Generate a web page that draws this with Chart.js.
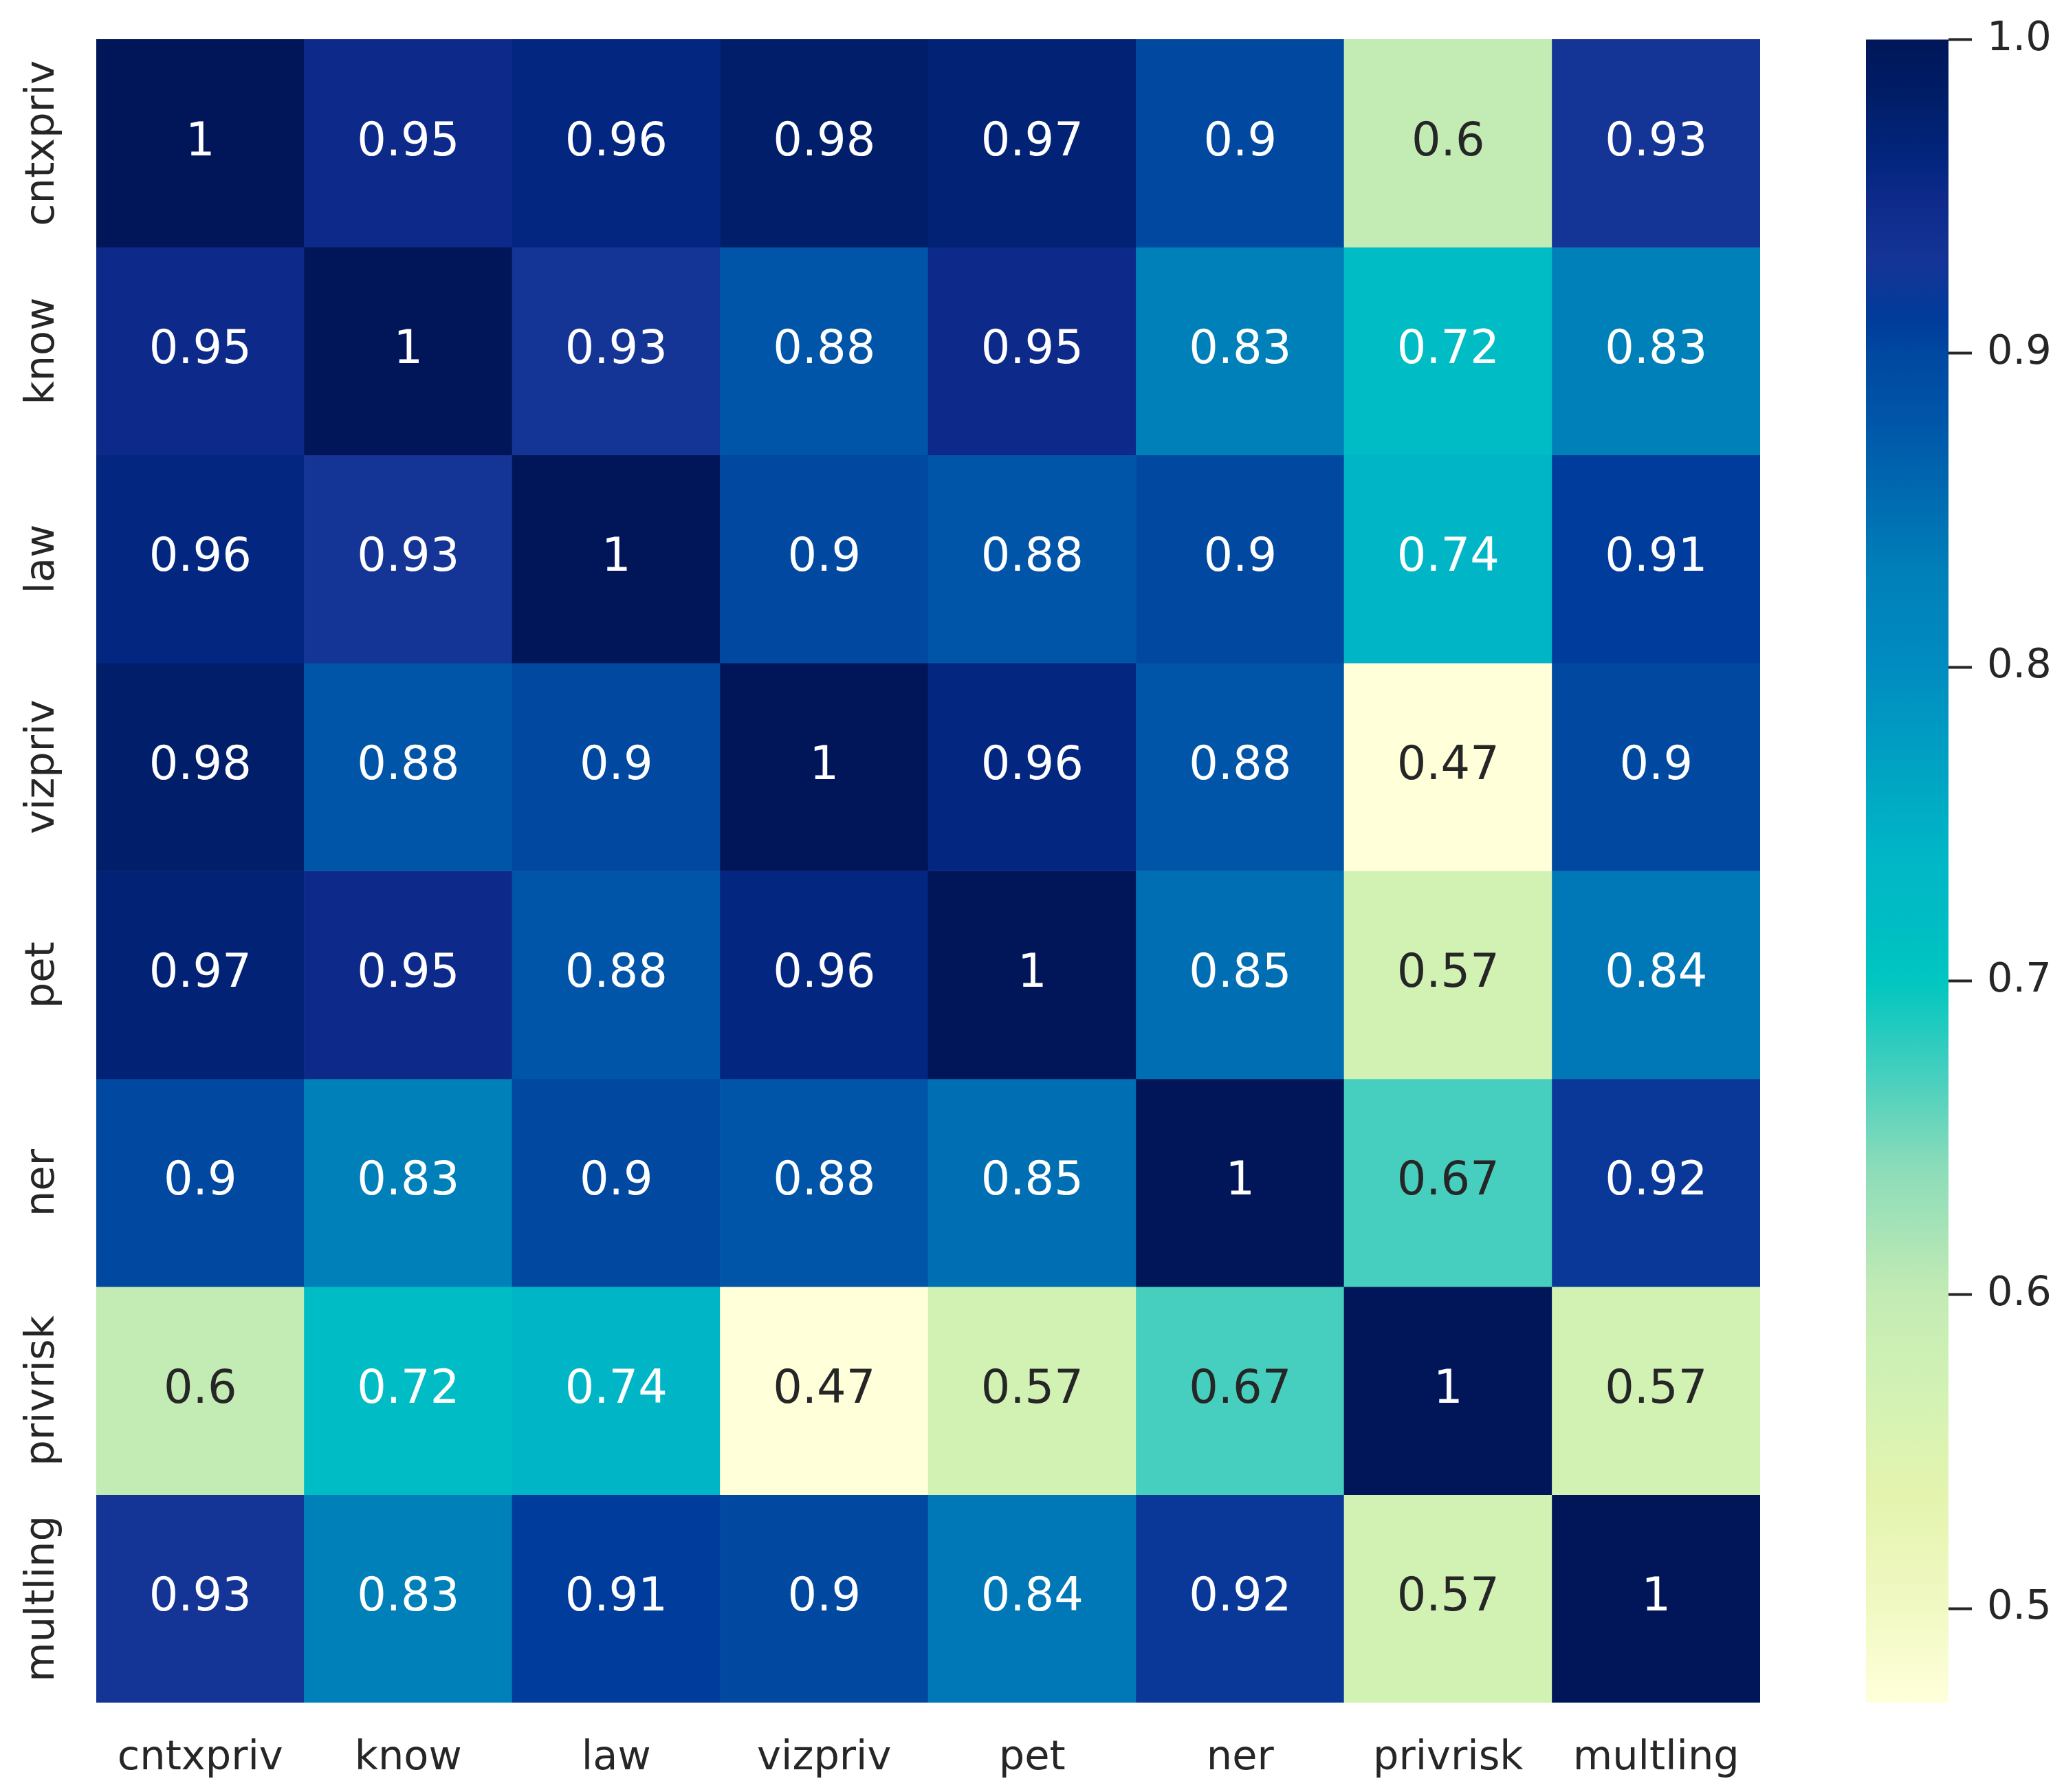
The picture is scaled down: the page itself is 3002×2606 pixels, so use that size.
<!DOCTYPE html>
<html>
<head>
<meta charset="utf-8">
<script src="https://cdn.jsdelivr.net/npm/chart.js@4/dist/chart.umd.min.js"></script>
<style>
  html, body { margin: 0; padding: 0; background: #fff; }
  #wrap { position: relative; width: 3002px; height: 2606px; overflow: hidden; }
  #heat { position: absolute; left: 0; top: 0; }
  #cbar { position: absolute; left: 2600px; top: 0; }
</style>
</head>
<body>
<div id="wrap">
  <canvas id="heat" width="3002" height="2606"></canvas>
  <canvas id="cbar" width="402" height="2606"></canvas>
</div>
<script>
// labels (same for rows and columns)
const names = ['cntxpriv', 'know', 'law', 'vizpriv', 'pet', 'ner', 'privrisk', 'multling'];

// correlation rows, top to bottom
const cntxpriv = [1, 0.95, 0.96, 0.98, 0.97, 0.9, 0.6, 0.93];
const know     = [0.95, 1, 0.93, 0.88, 0.95, 0.83, 0.72, 0.83];
const law      = [0.96, 0.93, 1, 0.9, 0.88, 0.9, 0.74, 0.91];
const vizpriv  = [0.98, 0.88, 0.9, 1, 0.96, 0.88, 0.47, 0.9];
const pet      = [0.97, 0.95, 0.88, 0.96, 1, 0.85, 0.57, 0.84];
const ner      = [0.9, 0.83, 0.9, 0.88, 0.85, 1, 0.67, 0.92];
const privrisk = [0.6, 0.72, 0.74, 0.47, 0.57, 0.67, 1, 0.57];
const multling = [0.93, 0.83, 0.91, 0.9, 0.84, 0.92, 0.57, 1];
const rows = [cntxpriv, know, law, vizpriv, pet, ner, privrisk, multling];

// colour bar range and ticks
const vmin = 0.47, vmax = 1.0;
const cbarTicks = [0.5, 0.6, 0.7, 0.8, 0.9, 1.0];

// colour map (YlGnBu as it looks in the picture)
const cmap = [
  [0.47, '#ffffda'], [0.50, '#f1f9c3'], [0.536, '#e4f4ae'], [0.57, '#d2f2b4'],
  [0.60, '#c3ebb4'], [0.64, '#8cdcb9'], [0.67, '#46cfbe'], [0.70, '#00c6c0'],
  [0.72, '#00bcc4'], [0.74, '#00b6c6'], [0.80, '#008cc0'], [0.83, '#0080b9'],
  [0.85, '#006eb2'], [0.88, '#0055a8'], [0.90, '#0048a0'], [0.91, '#003c9b'],
  [0.93, '#143496'], [0.95, '#0d2a8a'], [0.96, '#032680'], [0.98, '#001e69'],
  [1.00, '#001658']
];

const TEXT = '#262626';
const FONT = '"DejaVu Sans", sans-serif';
const TICK_SIZE = 59;

function hexRgb(h) {
  return [parseInt(h.slice(1, 3), 16), parseInt(h.slice(3, 5), 16), parseInt(h.slice(5, 7), 16)];
}
function colorFor(v) {
  if (v <= cmap[0][0]) return hexRgb(cmap[0][1]);
  for (let i = 1; i < cmap.length; i++) {
    if (v <= cmap[i][0]) {
      const a = cmap[i - 1], b = cmap[i];
      const t = (v - a[0]) / (b[0] - a[0]);
      const ca = hexRgb(a[1]), cb = hexRgb(b[1]);
      return ca.map((c, k) => Math.round(c + (cb[k] - c) * t));
    }
  }
  return hexRgb(cmap[cmap.length - 1][1]);
}
function rgbStr(c) { return 'rgb(' + c.join(',') + ')'; }
function luminance(c) {
  const l = c.map(x => {
    x /= 255;
    return x <= 0.03928 ? x / 12.92 : Math.pow((x + 0.055) / 1.055, 2.4);
  });
  return 0.2126 * l[0] + 0.7152 * l[1] + 0.0722 * l[2];
}

// one dataset per row, each cell a floating bar [row, row+1]
const datasets = rows.map((vals, r) => ({
  label: names[r],
  data: vals.map(() => [r, r + 1]),
  values: vals,
  backgroundColor: vals.map(v => rgbStr(colorFor(v))),
  borderWidth: 0,
  grouped: false,
  categoryPercentage: 1,
  barPercentage: 1
}));

const annotate = {
  id: 'annotate',
  afterDatasetsDraw(chart) {
    const c = chart.ctx;
    c.save();
    c.font = '67px ' + FONT;
    c.textAlign = 'center';
    c.textBaseline = 'middle';
    chart.data.datasets.forEach((ds, i) => {
      chart.getDatasetMeta(i).data.forEach((bar, j) => {
        const v = ds.values[j];
        c.fillStyle = luminance(colorFor(v)) > 0.408 ? TEXT : '#ffffff';
        c.fillText(String(v), bar.x, (bar.y + bar.base) / 2);
      });
    });
    c.restore();
  }
};

const rowLabels = {
  id: 'rowLabels',
  afterDraw(chart) {
    const ys = chart.scales.y;
    const c = chart.ctx;
    c.save();
    c.font = TICK_SIZE + 'px ' + FONT;
    c.fillStyle = TEXT;
    c.textAlign = 'center';
    c.textBaseline = 'middle';
    names.forEach((n, i) => {
      c.save();
      c.translate(ys.right - 77, ys.getPixelForValue(i + 0.5));
      c.rotate(-Math.PI / 2);
      c.fillText(n, 0, 0);
      c.restore();
    });
    c.restore();
  }
};

new Chart(document.getElementById('heat'), {
  type: 'bar',
  data: { labels: names, datasets: datasets },
  options: {
    responsive: false,
    devicePixelRatio: 1,
    animation: false,
    layout: { padding: { top: 57, right: 442, left: 0, bottom: 0 } },
    plugins: { legend: { display: false }, tooltip: { enabled: false } },
    scales: {
      x: {
        grid: { display: false },
        border: { display: false },
        ticks: { color: TEXT, font: { family: FONT, size: TICK_SIZE }, padding: 38, maxRotation: 0 },
        afterFit(s) { s.height = 130; }
      },
      y: {
        type: 'linear',
        min: 0,
        max: 8,
        reverse: true,
        grid: { display: false },
        border: { display: false },
        ticks: { display: false },
        afterFit(s) { s.width = 140; }
      }
    }
  },
  plugins: [annotate, rowLabels]
});

// colour bar
new Chart(document.getElementById('cbar'), {
  type: 'bar',
  data: {
    labels: [''],
    datasets: [{
      data: [[vmin, vmax]],
      borderWidth: 0,
      categoryPercentage: 1,
      barPercentage: 1,
      backgroundColor(ctx) {
        const chart = ctx.chart;
        if (!chart.chartArea) return '#ffffff';
        const ys = chart.scales.y;
        const y0 = ys.getPixelForValue(vmin), y1 = ys.getPixelForValue(vmax);
        const g = chart.ctx.createLinearGradient(0, y0, 0, y1);
        cmap.forEach(s => g.addColorStop((s[0] - vmin) / (vmax - vmin), s[1]));
        return g;
      }
    }]
  },
  options: {
    responsive: false,
    devicePixelRatio: 1,
    animation: false,
    layout: { padding: { top: 57, left: 114, right: 0, bottom: 130 } },
    plugins: { legend: { display: false }, tooltip: { enabled: false } },
    scales: {
      x: { display: false },
      y: {
        position: 'right',
        min: vmin,
        max: vmax,
        afterBuildTicks(s) { s.ticks = cbarTicks.map(v => ({ value: v })); },
        grid: { display: true, drawOnChartArea: false, drawTicks: true, tickLength: 34, tickWidth: 4, tickColor: TEXT },
        border: { display: false },
        ticks: {
          color: TEXT,
          padding: 22,
          font: { family: FONT, size: TICK_SIZE },
          callback: v => Number(v).toFixed(1)
        },
        afterFit(s) { s.width = 168; }
      }
    }
  }
});
</script>
</body>
</html>
